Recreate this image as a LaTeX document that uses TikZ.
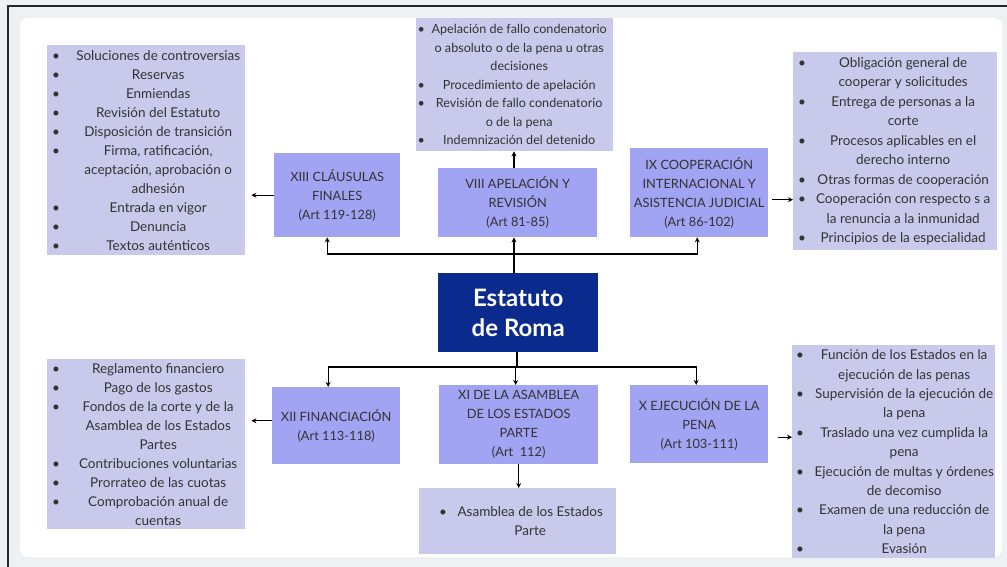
\documentclass[tikz,border=0pt]{standalone}
\usepackage{fontspec}
\setmainfont{Lato}
\usetikzlibrary{arrows.meta,calc}
\definecolor{listc}{HTML}{C9C9EC}
\definecolor{boxc}{HTML}{A0A4F2}
\definecolor{navy}{HTML}{0B2A8E}
\definecolor{bgc}{HTML}{EEF1F3}
\newlength\boff \newlength\bto \newlength\tcw
\newcommand\Bi[1]{\makebox[\bto][l]{\hspace*{\boff}\textbullet}\makebox[\tcw][c]{#1}}
\newcommand\Ci[1]{\makebox[\bto][l]{}\makebox[\tcw][c]{#1}}
\newcommand\LP[3]{\setlength\boff{#1}\setlength\bto{#2}\setlength\tcw{#3}}
\tikzset{
  listbox/.style={fill=listc, inner sep=0pt, anchor=north west, align=left, text=black!80},
  titlebox/.style={fill=boxc, inner sep=0pt, anchor=north west, align=center, text=black!80,
    font=\fontsize{12.8}{19}\selectfont},
  conn/.style={line width=1.4pt, -{Stealth[length=5pt,width=5pt]}},
  bar/.style={line width=1.6pt},
}
\begin{document}
\begin{tikzpicture}[x=1pt,y=-1pt]
\useasboundingbox (0,0) rectangle (1007,567);
\fill[bgc] (0,0) rectangle (1007,567);
\fill[white, rounded corners=8pt] (20,18) rectangle (1002,557);
\draw[line width=2pt, black!85] (8,567) -- (8,6) -- (1007,6);

% lists
\node[listbox, minimum width=198pt, minimum height=210pt, font=\fontsize{13.5}{19}\selectfont\LP{5pt}{24pt}{174pt}] (tl) at (47,45) {%
\Bi{Soluciones de controversias}\\
\Bi{Reservas}\\
\Bi{Enmiendas}\\
\Bi{Revisión del Estatuto}\\
\Bi{Disposición de transición}\\
\Bi{Firma, ratificación,}\\
\Ci{aceptación, aprobación o}\\
\Ci{adhesión}\\
\Bi{Entrada en vigor}\\
\Bi{Denuncia}\\
\Bi{Textos auténticos}};

\node[listbox, minimum width=197pt, minimum height=133pt, font=\fontsize{12.6}{18.5}\selectfont\LP{1.5pt}{9pt}{188pt}] (tc) at (416,18) {%
\Bi{Apelación de fallo condenatorio}\\
\Ci{o absoluto o de la pena u otras}\\
\Ci{decisiones}\\
\Bi{Procedimiento de apelación}\\
\Bi{Revisión de fallo condenatorio}\\
\Ci{o de la pena}\\
\Bi{Indemnización del detenido}};

\node[listbox, minimum width=204pt, minimum height=198pt, font=\fontsize{13.5}{19.5}\selectfont\LP{5pt}{16pt}{188pt}] (tr) at (793,52) {%
\Bi{Obligación general de}\\
\Ci{cooperar y solicitudes}\\
\Bi{Entrega de personas a la}\\
\Ci{corte}\\
\Bi{Procesos aplicables en el}\\
\Ci{derecho interno}\\
\Bi{Otras formas de cooperación}\\
\Bi{Cooperación con respecto s a}\\
\Ci{la renuncia a la inmunidad}\\
\Bi{Principios de la especialidad}};

\node[listbox, minimum width=198pt, minimum height=170pt, font=\fontsize{13.5}{19}\selectfont\LP{5pt}{24pt}{174pt}] (bl) at (47,359) {%
\Bi{Reglamento financiero}\\
\Bi{Pago de los gastos}\\
\Bi{Fondos de la corte y de la}\\
\Ci{Asamblea de los Estados}\\
\Ci{Partes}\\
\Bi{Contribuciones voluntarias}\\
\Bi{Prorrateo de las cuotas}\\
\Bi{Comprobación anual de}\\
\Ci{cuentas}};

\node[listbox, minimum width=197pt, minimum height=66pt, font=\fontsize{13.5}{19}\selectfont\LP{20pt}{25pt}{172pt}] (bc) at (419,488) {%
\Bi{Asamblea de los Estados}\\
\Ci{Parte}};

\node[listbox, minimum width=203pt, minimum height=213pt, font=\fontsize{13.5}{19.4}\selectfont\LP{4pt}{21pt}{182pt}] (br) at (792,345) {%
\Bi{Función de los Estados en la}\\
\Ci{ejecución de las penas}\\
\Bi{Supervisión de la ejecución de}\\
\Ci{la pena}\\
\Bi{Traslado una vez cumplida la}\\
\Ci{pena}\\
\Bi{Ejecución de multas y órdenes}\\
\Ci{de decomiso}\\
\Bi{Examen de una reducción de}\\
\Ci{la pena}\\
\Bi{Evasión}};

% title boxes
\node[titlebox, minimum width=126pt, minimum height=84pt] (xiii) at (274,153) {XIII CLÁUSULAS\\FINALES\\(Art 119-128)};
\node[titlebox, minimum width=159pt, minimum height=69pt] (viii) at (438,168) {VIII APELACIÓN Y\\REVISIÓN\\(Art 81-85)};
\node[titlebox, minimum width=138pt, minimum height=89pt] (ix) at (630,148) {IX COOPERACIÓN\\INTERNACIONAL Y\\ASISTENCIA JUDICIAL\\(Art 86-102)};
\node[titlebox, minimum width=128pt, minimum height=77pt] (xii) at (272,387) {XII FINANCIACIÓN\\(Art 113-118)};
\node[titlebox, minimum width=159pt, minimum height=79pt] (xi) at (439,385) {XI DE LA ASAMBLEA\\DE LOS ESTADOS\\PARTE\\(Art\ \ 112)};
\node[titlebox, minimum width=138pt, minimum height=78pt] (x) at (630,385) {X EJECUCIÓN DE LA\\PENA\\(Art 103-111)};

% centre
\node[fill=navy, anchor=north west, inner sep=0pt, minimum width=160pt, minimum height=79pt,
  text=white, align=center, font=\bfseries\fontsize{24}{30}\selectfont] (rome) at (438,273) {Estatuto\\de Roma};

% connectors top
\coordinate (bt) at (514,254);
\coordinate (bb) at (517,367);
\draw[bar] (rome.north -| bt) -- (bt);
\draw[conn] (bt) -- (viii.south -| bt);
\draw[conn] (bt) -| ([xshift=-10pt]xiii.south);
\draw[conn] (bt) -| ([xshift=-2pt]ix.south);
\draw[conn] (viii.north -| bt) -- (tc.south -| bt);
% connectors bottom
\draw[bar] (rome.south -| bb) -- (bb);
\draw[conn] (bb) -| ([xshift=-3pt]xi.north);
\draw[conn] (bb) -| ([xshift=-8pt]xii.north);
\draw[conn] (bb) -| ([xshift=-3pt]x.north);
\draw[conn] (xi.south) -- (bc.north -| xi.south);
% side arrows
\draw[conn, shorten >=6pt] (xiii.west) -- (tl.east |- xiii.west);
\draw[conn, shorten <=4pt] ($(ix.east)+(0,7)$) -- ($(tr.west |- ix.east)+(0,7)$);
\draw[conn, shorten >=6pt] ($(xii.west)+(0,-5)$) -- ($(bl.east |- xii.west)+(0,-5)$);
\draw[conn, shorten <=10pt] ($(x.east)+(0,13)$) -- ($(br.west |- x.east)+(0,13)$);
\end{tikzpicture}
\end{document}
